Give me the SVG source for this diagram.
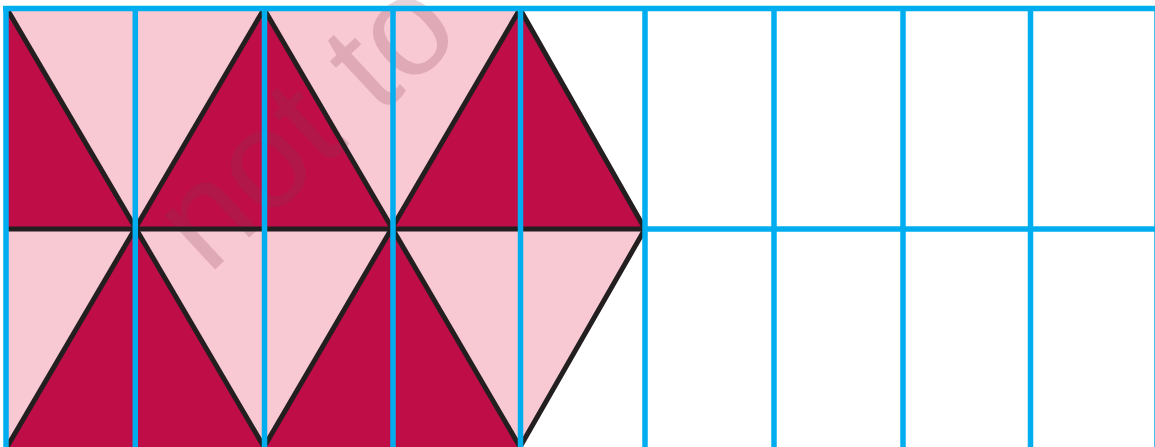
<svg xmlns="http://www.w3.org/2000/svg" width="1155" height="447" viewBox="0 0 1155 447">
<style>
.pink{fill:#F8C9D3}
.dark{fill:#BE0D47}
.edge{stroke:#231F20;stroke-width:5;fill:none}
.grid{stroke:#00AEEF;stroke-width:5.5;fill:none}
.wm{font-family:"Liberation Sans",Arial,sans-serif;font-size:140px;fill:#8a3a50;fill-opacity:0.22}
</style>
<rect width="1155" height="447" fill="#ffffff"/>
<g id="fills">
<polygon class="pink" points="7,9 520,9 645,229 520,447 7,447"/>
<polygon class="dark" points="7,9 135,229 7,229"/>
<polygon class="dark" points="264,9 135,229 392,229"/>
<polygon class="dark" points="520,9 392,229 645,229"/>
<polygon class="dark" points="135,229 7,447 264,447"/>
<polygon class="dark" points="392,229 264,447 520,447"/>
</g>
<g id="watermark">
<text class="wm" transform="translate(208,276) rotate(-43)">not to</text>
</g>
<g id="edges">
<line class="edge" x1="7" y1="9" x2="264" y2="447"/>
<line class="edge" x1="264" y1="9" x2="7" y2="447"/>
<line class="edge" x1="264" y1="9" x2="520" y2="447"/>
<line class="edge" x1="520" y1="9" x2="264" y2="447"/>
<polyline class="edge" points="520,9 645,229 520,447"/>
<line class="edge" x1="7" y1="229" x2="645" y2="229"/>
</g>
<g id="grid">
<line class="grid" x1="3" y1="8.5" x2="1155" y2="8.5"/>
<line class="grid" x1="645" y1="229" x2="1155" y2="229"/>
<line class="grid" x1="6" y1="6" x2="6" y2="447"/>
<line class="grid" x1="135.3" y1="6" x2="135.3" y2="447"/>
<line class="grid" x1="264.5" y1="6" x2="264.5" y2="447"/>
<line class="grid" x1="393" y1="6" x2="393" y2="447"/>
<line class="grid" x1="520.5" y1="6" x2="520.5" y2="447"/>
<line class="grid" x1="645" y1="6" x2="645" y2="447"/>
<line class="grid" x1="774" y1="6" x2="774" y2="447"/>
<line class="grid" x1="903" y1="6" x2="903" y2="447"/>
<line class="grid" x1="1030.5" y1="6" x2="1030.5" y2="447"/>
<line class="grid" x1="1157" y1="6" x2="1157" y2="447"/>
</g>
</svg>
